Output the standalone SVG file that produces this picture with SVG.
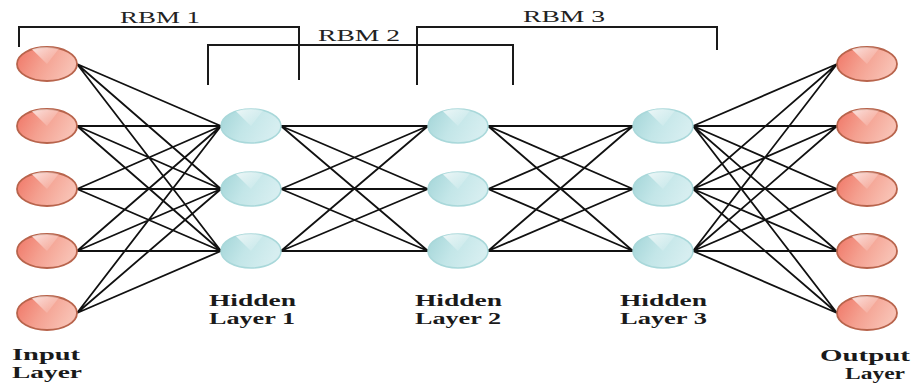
<svg xmlns="http://www.w3.org/2000/svg" xmlns:xlink="http://www.w3.org/1999/xlink" width="914" height="385" viewBox="0 0 914 385">
<style>
.edge{stroke:#111;stroke-width:1.8;fill:none}
.br{stroke:#1a1a1a;stroke-width:2;fill:none}
.rbm{font-family:"Liberation Serif","Times New Roman",serif;font-size:17px;fill:#222}
.lbl{font-family:"Liberation Serif","Times New Roman",serif;font-size:16px;font-weight:bold;fill:#1a1a1a}
</style>
<defs>
<linearGradient id="gr" x1="0" y1="0" x2="1" y2="0.3">
<stop offset="0" stop-color="#f07565"/><stop offset="0.5" stop-color="#f4a090"/><stop offset="1" stop-color="#f8c0b3"/>
</linearGradient>
<linearGradient id="gb" x1="0" y1="0" x2="1" y2="0.3">
<stop offset="0" stop-color="#a3d5d8"/><stop offset="0.5" stop-color="#c3e6e8"/><stop offset="1" stop-color="#d6eef0"/>
</linearGradient>
<linearGradient id="gw" x1="0" y1="0" x2="1" y2="0.7">
<stop offset="0" stop-color="#ffffff" stop-opacity="0.8"/><stop offset="1" stop-color="#ffffff" stop-opacity="0"/>
</linearGradient>
<g id="rn">
<ellipse rx="30" ry="17" fill="url(#gr)" stroke="#b8644c" stroke-width="1.8"/>
<path d="M0,0 L-15,-14.7 A30,17 0 0,1 12,-15.6 Z" fill="url(#gw)"/>
</g>
<g id="bn">
<ellipse rx="30" ry="17" fill="url(#gb)" stroke="#a9d8da" stroke-width="1.5"/>
<path d="M0,0 L-15,-14.7 A30,17 0 0,1 12,-15.6 Z" fill="url(#gw)"/>
</g>
</defs>
<rect width="914" height="385" fill="#ffffff"/>
<g id="connectors">
<path class="edge" d="M77,64L221,126M77,64L221,189M77,64L221,251M77,126L221,126M77,126L221,189M77,126L221,251M77,189L221,126M77,189L221,189M77,189L221,251M77,251L221,126M77,251L221,189M77,251L221,251M77,313L221,126M77,313L221,189M77,313L221,251"/>
<path class="edge" d="M281,126L428,126M281,126L428,189M281,126L428,251M281,189L428,126M281,189L428,189M281,189L428,251M281,251L428,126M281,251L428,189M281,251L428,251"/>
<path class="edge" d="M488,126L633,126M488,126L633,189M488,126L633,251M488,189L633,126M488,189L633,189M488,189L633,251M488,251L633,126M488,251L633,189M488,251L633,251"/>
<path class="edge" d="M693,126L837,64M693,126L837,126M693,126L837,189M693,126L837,251M693,126L837,313M693,189L837,64M693,189L837,126M693,189L837,189M693,189L837,251M693,189L837,313M693,251L837,64M693,251L837,126M693,251L837,189M693,251L837,251M693,251L837,313"/>
</g>
<g id="brackets">
<path class="br" d="M19,47V27H299V80"/>
<path class="br" d="M208,85V45H513V85"/>
<path class="br" d="M417,85V27H717V50"/>
<text class="rbm" x="120" y="23" textLength="80" lengthAdjust="spacingAndGlyphs">RBM 1</text>
<text class="rbm" x="318" y="41" textLength="82" lengthAdjust="spacingAndGlyphs">RBM 2</text>
<text class="rbm" x="523" y="22" textLength="82" lengthAdjust="spacingAndGlyphs">RBM 3</text>
</g>
<g id="input-layer">
<use xlink:href="#rn" x="47" y="64"/>
<use xlink:href="#rn" x="47" y="126"/>
<use xlink:href="#rn" x="47" y="189"/>
<use xlink:href="#rn" x="47" y="251"/>
<use xlink:href="#rn" x="47" y="313"/>
<text class="lbl" x="12" y="360" textLength="68" lengthAdjust="spacingAndGlyphs">Input</text>
<text class="lbl" x="12" y="378" textLength="70" lengthAdjust="spacingAndGlyphs">Layer</text>
</g>
<g id="hidden-layer-1">
<use xlink:href="#bn" x="251" y="126"/>
<use xlink:href="#bn" x="251" y="189"/>
<use xlink:href="#bn" x="251" y="251"/>
<text class="lbl" x="209" y="306" textLength="87" lengthAdjust="spacingAndGlyphs">Hidden</text>
<text class="lbl" x="209" y="324" textLength="86" lengthAdjust="spacingAndGlyphs">Layer 1</text>
</g>
<g id="hidden-layer-2">
<use xlink:href="#bn" x="458" y="126"/>
<use xlink:href="#bn" x="458" y="189"/>
<use xlink:href="#bn" x="458" y="251"/>
<text class="lbl" x="415" y="306" textLength="87" lengthAdjust="spacingAndGlyphs">Hidden</text>
<text class="lbl" x="415" y="324" textLength="86" lengthAdjust="spacingAndGlyphs">Layer 2</text>
</g>
<g id="hidden-layer-3">
<use xlink:href="#bn" x="663" y="126"/>
<use xlink:href="#bn" x="663" y="189"/>
<use xlink:href="#bn" x="663" y="251"/>
<text class="lbl" x="620" y="306" textLength="87" lengthAdjust="spacingAndGlyphs">Hidden</text>
<text class="lbl" x="620" y="324" textLength="87" lengthAdjust="spacingAndGlyphs">Layer 3</text>
</g>
<g id="output-layer">
<use xlink:href="#rn" x="867" y="64"/>
<use xlink:href="#rn" x="867" y="126"/>
<use xlink:href="#rn" x="867" y="189"/>
<use xlink:href="#rn" x="867" y="251"/>
<use xlink:href="#rn" x="867" y="313"/>
<text class="lbl" x="820" y="361" textLength="90" lengthAdjust="spacingAndGlyphs">Output</text>
<text class="lbl" x="845" y="379" textLength="60" lengthAdjust="spacingAndGlyphs">Layer</text>
</g>
</svg>
